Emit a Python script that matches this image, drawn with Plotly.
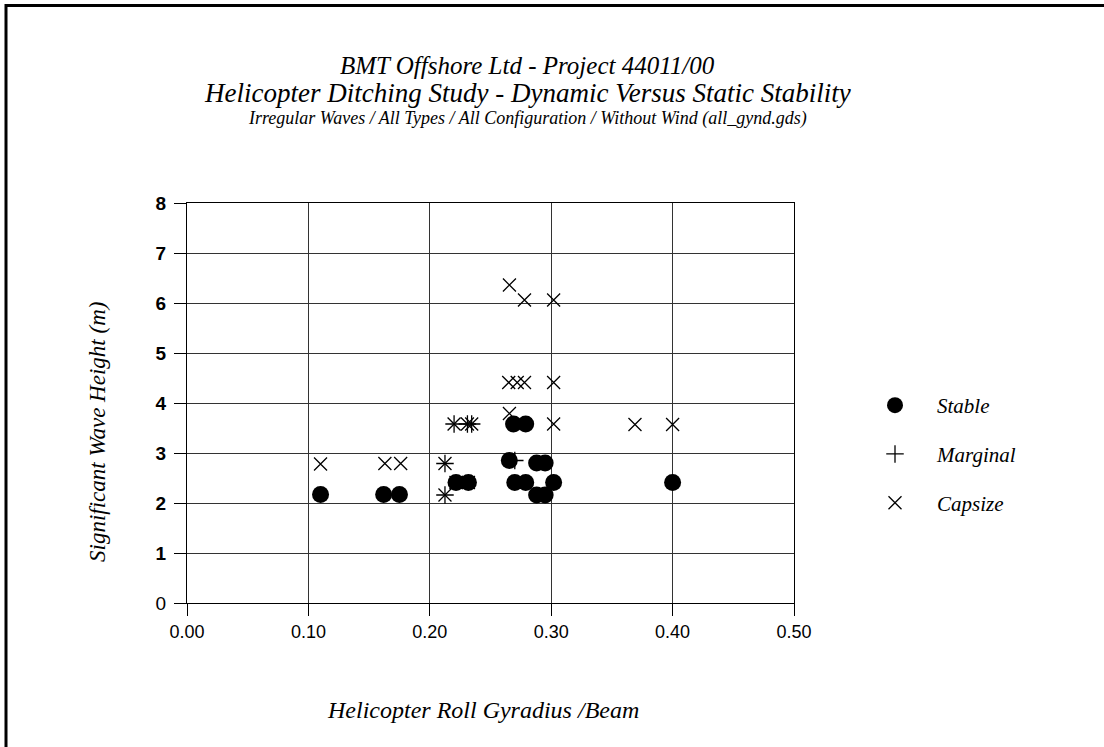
import plotly.graph_objects as go

# ---- data ----
stable_x = [0.110, 0.162, 0.175, 0.2216, 0.2318, 0.2655, 0.269, 0.279, 0.270, 0.279,
            0.288, 0.295, 0.288, 0.295, 0.302, 0.400]
stable_y = [2.17, 2.17, 2.17, 2.41, 2.41, 2.85, 3.58, 3.58, 2.41, 2.41,
            2.80, 2.80, 2.16, 2.16, 2.41, 2.41]

marginal_x = [0.2125, 0.2125, 0.220, 0.231, 0.2345, 0.270]
marginal_y = [2.79, 2.16, 3.58, 3.58, 3.58, 2.85]

capsize_x = [0.110, 0.163, 0.176, 0.2125, 0.2125, 0.220, 0.231, 0.2345, 0.2216, 0.2318,
             0.2656, 0.302, 0.369, 0.400, 0.265, 0.272, 0.278, 0.302,
             0.2656, 0.278, 0.302]
capsize_y = [2.78, 2.79, 2.79, 2.79, 2.16, 3.58, 3.58, 3.58, 2.41, 2.41,
             3.79, 3.58, 3.57, 3.57, 4.41, 4.41, 4.41, 4.41,
             6.36, 6.06, 6.06]

x_ticks = [0.0, 0.1, 0.2, 0.3, 0.4, 0.5]
x_tick_labels = ["0.00", "0.10", "0.20", "0.30", "0.40", "0.50"]
y_ticks = [0, 1, 2, 3, 4, 5, 6, 7, 8]
y_tick_labels = ["0", "<b>1</b>", "<b>2</b>", "<b>3</b>", "<b>4</b>", "<b>5</b>",
                 "<b>6</b>", "<b>7</b>", "<b>8</b>"]

title_lines = ["BMT Offshore Ltd - Project 44011/00",
               "Helicopter Ditching Study - Dynamic Versus Static Stability",
               "Irregular Waves / All Types / All Configuration / Without Wind (all_gynd.gds)"]
x_title = "Helicopter Roll Gyradius /Beam"
y_title = "Significant Wave Height (m)"

SERIF = "Liberation Serif, Times New Roman, serif"
SANS = "Liberation Sans, Arial, sans-serif"

W, H = 1104, 747
L, R, T, B = 187, 310, 203, 144
PW, PH = W - L - R, H - T - B


def px_x(p):
    return (p - L) / PW


def px_y(p):
    return (H - B - p) / PH


fig = go.Figure()
fig.add_trace(go.Scatter(
    x=capsize_x, y=capsize_y, mode="markers", name="Capsize", legendrank=3,
    legendgroup="c",
    marker=dict(symbol="x-thin", size=13, color="black",
                line=dict(color="black", width=1.3))))
fig.add_trace(go.Scatter(
    x=marginal_x, y=marginal_y, mode="markers", name="Marginal", legendrank=2,
    legendgroup="m",
    marker=dict(symbol="cross-thin", size=12.5, color="black",
                line=dict(color="black", width=1.3))))
fig.add_trace(go.Scatter(
    x=stable_x, y=stable_y, mode="markers", name="Stable", legendrank=1,
    legendgroup="s",
    marker=dict(symbol="circle", size=17, color="black", line=dict(width=0))))

axis_common = dict(showgrid=True, gridcolor="#333333", gridwidth=1,
                   showline=True, linecolor="black", linewidth=1, mirror=True,
                   ticks="outside", ticklen=12, tickcolor="black", tickwidth=1,
                   zeroline=False, fixedrange=True)

fig.update_xaxes(range=[0, 0.5], tickvals=x_ticks, ticktext=x_tick_labels,
                 tickfont=dict(family=SANS, size=18, color="black"), **axis_common)
fig.update_yaxes(range=[0, 8], tickvals=y_ticks, ticktext=y_tick_labels,
                 ticklabelstandoff=4,
                 tickfont=dict(family=SANS, size=19, color="black"), **axis_common)

annotations = [
    dict(text=title_lines[0], x=px_x(527), y=px_y(65), size=25),
    dict(text=title_lines[1], x=px_x(527), y=px_y(93), size=27),
    dict(text=title_lines[2], x=px_x(527), y=px_y(118), size=18),
    dict(text=x_title, x=px_x(483), y=px_y(710), size=24),
]
ann = []
for a in annotations:
    ann.append(dict(text=a["text"], x=a["x"], y=a["y"], xref="paper", yref="paper",
                    xanchor="center", yanchor="middle", showarrow=False,
                    font=dict(family=SERIF, size=a["size"], color="black", style="italic")))
ann.append(dict(text=y_title, x=px_x(97), y=px_y(432), xref="paper", yref="paper",
                xanchor="center", yanchor="middle", showarrow=False, textangle=-90,
                font=dict(family=SERIF, size=23, color="black", style="italic")))

fig.update_layout(
    width=W, height=H,
    margin=dict(l=L, r=R, t=T, b=B, autoexpand=False),
    paper_bgcolor="white", plot_bgcolor="white",
    showlegend=True,
    legend=dict(x=px_x(853), y=px_y(385), xanchor="left", yanchor="top",
                font=dict(family=SERIF, size=21, color="black", style="italic"),
                itemwidth=74, tracegroupgap=18.5, traceorder="grouped",
                bgcolor="rgba(0,0,0,0)", borderwidth=0),
    annotations=ann,
    shapes=[dict(type="rect", xref="paper", yref="paper",
                 x0=px_x(6), x1=px_x(1115), y0=px_y(5.5), y1=px_y(760),
                 line=dict(color="black", width=3), fillcolor="rgba(0,0,0,0)")],
)

fig.write_html("out.html", config={"displayModeBar": False})
